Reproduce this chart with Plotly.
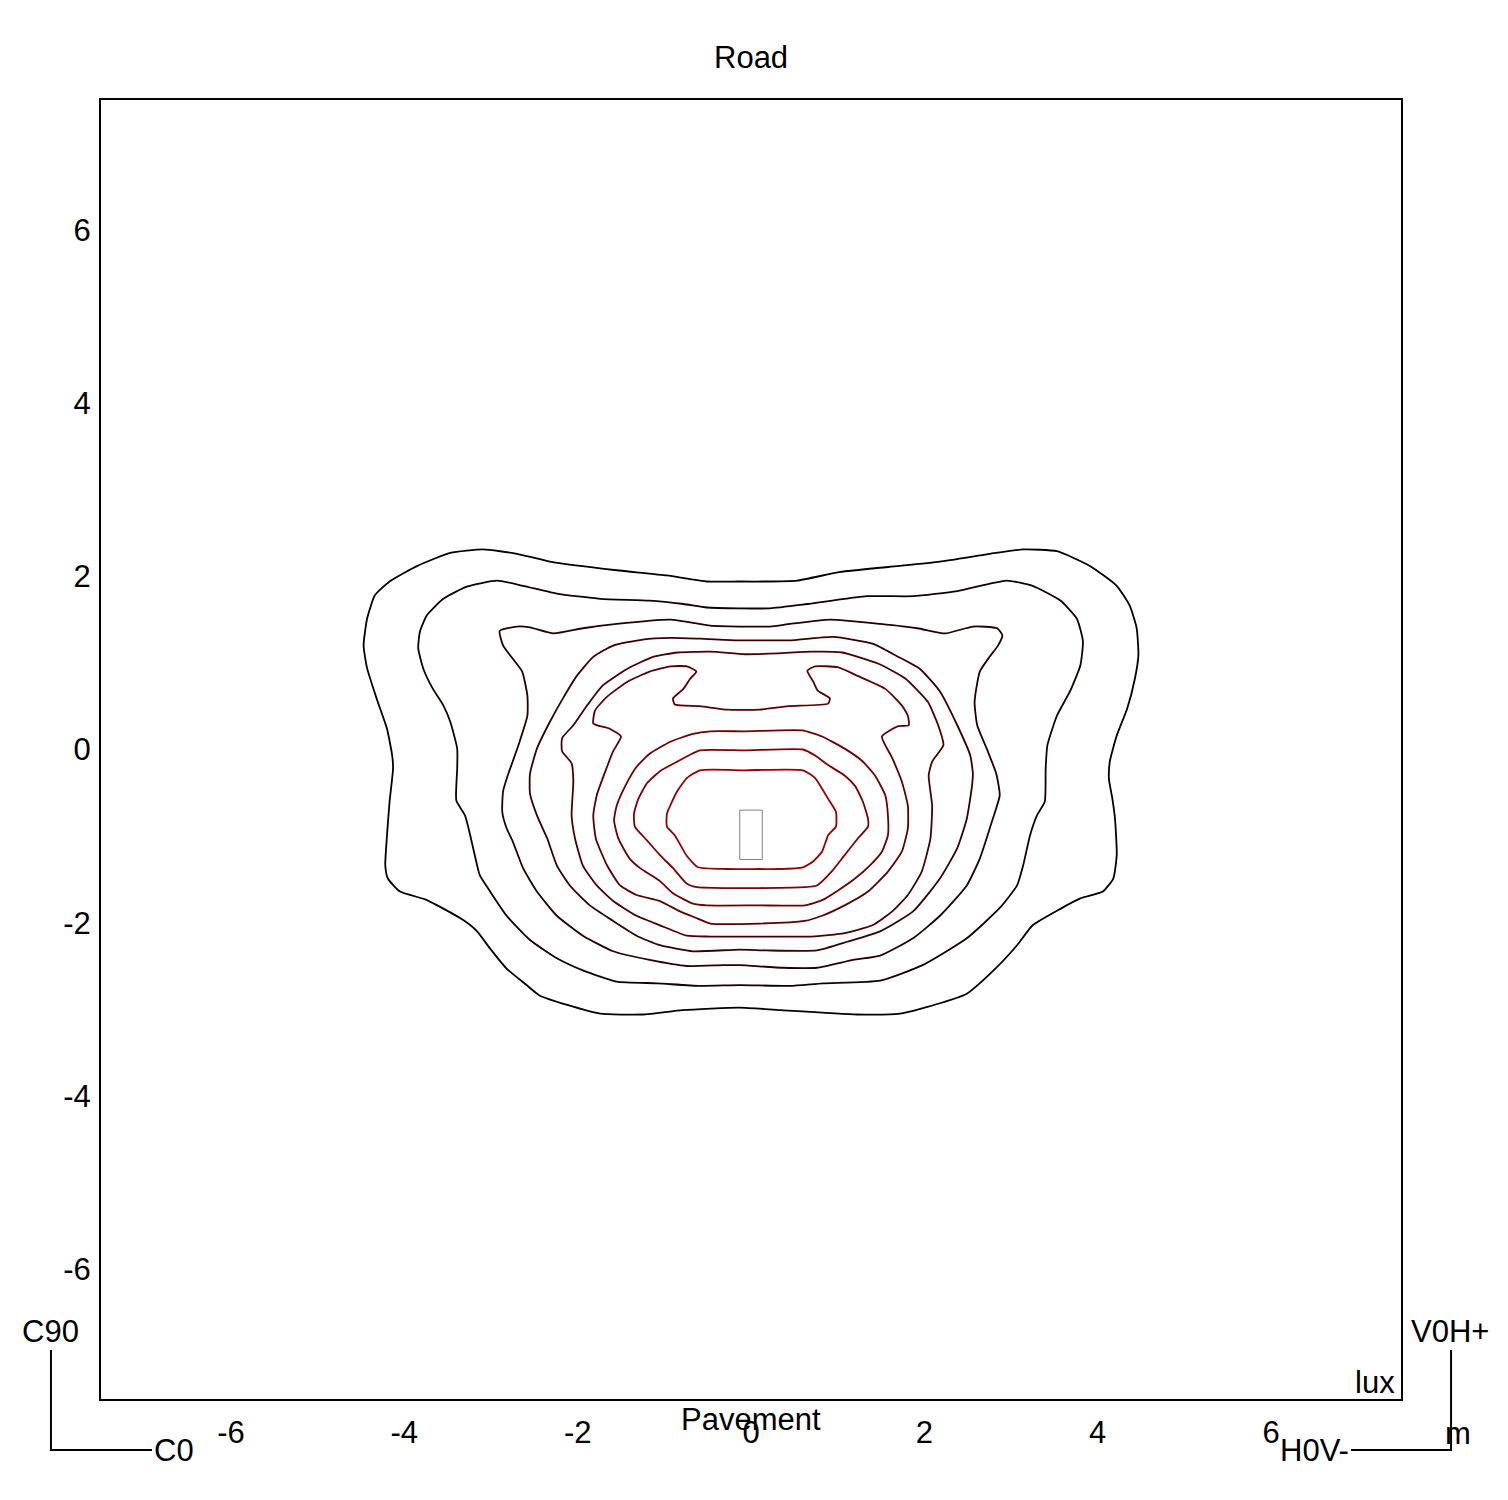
import plotly.graph_objects as go

# isolux lines (metres), outermost first
c1_x = [-3.09, -2.70, -2.32, -1.55, -0.97, -0.51, -0.13, 0.22, 0.53, 1.03, 1.60, 2.18, 2.76, 3.14, 3.53, 3.91,
        4.22, 4.37, 4.45, 4.47, 4.43, 4.34, 4.22, 4.14, 4.13, 4.17, 4.20, 4.22, 4.18, 4.06, 3.80, 3.57, 3.25,
        3.07, 2.79, 2.49, 2.18, 1.72, 1.22, 0.34, -0.13, -0.79, -1.25, -1.74, -2.12, -2.44, -2.59, -2.82, -3.01,
        -3.16, -3.32, -3.62, -3.76, -4.05, -4.19, -4.22, -4.20, -4.17, -4.13, -4.14, -4.20, -4.32, -4.43, -4.47,
        -4.43, -4.34, -4.17, -3.85, -3.47]
c1_y = [2.31, 2.26, 2.17, 2.07, 2.01, 1.94, 1.94, 1.94, 1.95, 2.05, 2.11, 2.17, 2.26, 2.31, 2.29, 2.12,
        1.89, 1.66, 1.40, 1.09, 0.82, 0.47, 0.16, -0.14, -0.34, -0.57, -0.80, -1.22, -1.49, -1.64, -1.72, -1.84,
        -2.03, -2.26, -2.56, -2.82, -2.93, -3.05, -3.06, -3.01, -2.98, -3.01, -3.06, -3.05, -2.95, -2.84, -2.72,
        -2.53, -2.30, -2.10, -1.97, -1.80, -1.73, -1.64, -1.49, -1.34, -0.99, -0.60, -0.22, -0.07, 0.24, 0.59,
        0.94, 1.20, 1.51, 1.78, 1.94, 2.12, 2.27]

c2_x = [-2.93, -2.63, -2.24, -1.74, -1.17, -0.78, -0.51, -0.13, 0.22, 0.65, 1.34, 1.87, 2.38, 2.95, 3.25, 3.57,
        3.76, 3.83, 3.80, 3.68, 3.53, 3.42, 3.40, 3.39, 3.30, 3.22, 3.14, 3.07, 2.87, 2.49, 1.98, 1.49, 0.83,
        0.45, -0.13, -0.59, -1.08, -1.55, -1.94, -2.24, -2.55, -2.82, -3.01, -3.13, -3.16, -3.24, -3.30, -3.40,
        -3.39, -3.39, -3.47, -3.55, -3.67, -3.78, -3.84, -3.82, -3.74, -3.55, -3.28]
c2_y = [1.95, 1.89, 1.80, 1.74, 1.72, 1.68, 1.64, 1.63, 1.63, 1.68, 1.77, 1.77, 1.83, 1.95, 1.89, 1.72,
        1.51, 1.25, 0.97, 0.67, 0.39, 0.05, -0.22, -0.60, -0.76, -0.99, -1.34, -1.57, -1.83, -2.18, -2.49, -2.67,
        -2.70, -2.73, -2.72, -2.73, -2.70, -2.68, -2.55, -2.41, -2.20, -1.92, -1.64, -1.45, -1.34, -0.99, -0.76,
        -0.59, -0.22, 0.01, 0.32, 0.51, 0.70, 0.93, 1.17, 1.36, 1.55, 1.74, 1.88]

c3_x = [-2.90, -2.70, -2.55, -2.28, -1.94, -1.55, -0.93, -0.47, -0.13, 0.22, 0.45, 0.91, 1.49, 1.92, 2.24, 2.56,
        2.84, 2.90, 2.85, 2.76, 2.64, 2.58, 2.61, 2.72, 2.83, 2.87, 2.79, 2.64, 2.49, 2.18, 1.87, 1.49, 1.18,
        0.76, 0.37, -0.13, -0.32, -0.74, -1.17, -1.59, -1.94, -2.24, -2.47, -2.63, -2.75, -2.82, -2.87, -2.86,
        -2.80, -2.75, -2.67, -2.58, -2.58, -2.64, -2.75, -2.86]
c3_y = [1.37, 1.42, 1.41, 1.34, 1.40, 1.45, 1.50, 1.43, 1.42, 1.42, 1.45, 1.50, 1.45, 1.40, 1.34, 1.42,
        1.40, 1.32, 1.20, 1.08, 0.90, 0.55, 0.28, 0.01, -0.28, -0.53, -0.80, -1.26, -1.57, -1.92, -2.18, -2.38,
        -2.43, -2.52, -2.52, -2.49, -2.49, -2.50, -2.43, -2.33, -2.15, -1.92, -1.64, -1.37, -1.06, -0.91, -0.72,
        -0.48, -0.28, -0.14, 0.09, 0.39, 0.62, 0.90, 1.05, 1.20]

c4_x = [-2.55, -2.47, -2.32, -2.17, -2.01, -1.82, -1.59, -1.25, -0.93, -0.59, -0.13, 0.22, 0.45, 0.95, 1.41, 1.68,
        1.95, 2.18, 2.38, 2.53, 2.56, 2.55, 2.49, 2.38, 2.18, 1.87, 1.49, 1.11, 0.76, 0.18, -0.13, -0.67, -1.05,
        -1.32, -1.59, -1.86, -2.09, -2.24, -2.35, -2.47, -2.55]
c4_y = [-0.28, 0.01, 0.32, 0.59, 0.85, 1.07, 1.20, 1.27, 1.29, 1.28, 1.26, 1.26, 1.26, 1.30, 1.22, 1.08,
        0.93, 0.67, 0.28, -0.07, -0.28, -0.42, -0.80, -1.14, -1.49, -1.87, -2.10, -2.22, -2.32, -2.32, -2.31, -2.33,
        -2.26, -2.15, -1.98, -1.80, -1.57, -1.34, -1.03, -0.76, -0.51]

c5_x = [-2.18, -2.05, -1.89, -1.71, -1.43, -1.13, -0.85, -0.47, -0.07, 0.31, 0.70, 1.05, 1.47, 1.78, 2.04, 2.16,
        2.22, 2.09, 2.05, 2.09, 2.07, 1.97, 1.81, 1.63, 1.40, 1.08, 0.70, 0.10, -0.47, -0.74, -1.05, -1.32, -1.59,
        -1.78, -1.94, -2.03, -2.07, -2.05, -2.07, -2.18]
c5_y = [0.13, 0.28, 0.51, 0.74, 0.93, 1.07, 1.12, 1.13, 1.10, 1.11, 1.13, 1.12, 0.99, 0.82, 0.55, 0.28,
        0.05, -0.14, -0.30, -0.65, -1.03, -1.41, -1.68, -1.87, -2.03, -2.12, -2.16, -2.16, -2.16, -2.15, -2.03, -1.92,
        -1.75, -1.57, -1.34, -1.03, -0.76, -0.37, -0.16, -0.02]

c6_x = [0.10, -0.28, -0.59, -0.88, -0.90, -0.78, -0.70, -0.63, -0.74, -0.93, -1.17, -1.43, -1.66, -1.80, -1.82,
        -1.74, -1.63, -1.50, -1.59, -1.68, -1.78, -1.82, -1.79, -1.66, -1.51, -1.32, -1.05, -0.82, -0.62, -0.47,
        0.10, 0.62, 0.82, 1.08, 1.35, 1.58, 1.74, 1.81, 1.81, 1.74, 1.63, 1.51, 1.70, 1.82, 1.81, 1.74, 1.55,
        1.23, 1.00, 0.74, 0.65, 0.72, 0.77, 0.91, 0.89, 0.43]
c6_y = [0.46, 0.46, 0.50, 0.52, 0.59, 0.70, 0.82, 0.90, 0.96, 0.96, 0.90, 0.78, 0.61, 0.45, 0.30,
        0.27, 0.24, 0.15, -0.02, -0.25, -0.53, -0.76, -1.03, -1.34, -1.57, -1.68, -1.75, -1.87, -1.95, -2.01,
        -2.01, -1.98, -1.92, -1.80, -1.64, -1.41, -1.18, -0.91, -0.65, -0.37, -0.10, 0.15, 0.27, 0.28, 0.39, 0.51,
        0.70, 0.85, 0.95, 0.96, 0.91, 0.78, 0.68, 0.59, 0.53, 0.50]

c7_x = [-0.07, -0.47, -0.67, -0.93, -1.17, -1.32, -1.45, -1.55, -1.58, -1.53, -1.40, -1.28, -1.05, -0.90, -0.67,
        -0.51, 0.10, 0.62, 0.82, 1.00, 1.20, 1.37, 1.51, 1.58, 1.58, 1.55, 1.43, 1.28, 1.08, 0.82, 0.59]
c7_y = [0.21, 0.21, 0.18, 0.09, -0.05, -0.20, -0.42, -0.65, -0.82, -1.03, -1.26, -1.37, -1.52, -1.66, -1.78,
        -1.80, -1.80, -1.80, -1.74, -1.63, -1.49, -1.34, -1.18, -0.99, -0.76, -0.53, -0.30, -0.13, 0.01, 0.15, 0.22]

c8_x = [-0.07, -0.59, -0.85, -1.05, -1.20, -1.30, -1.35, -1.34, -1.20, -1.05, -0.90, -0.74, -0.62, -0.28, 0.10,
        0.62, 0.76, 0.93, 1.08, 1.23, 1.35, 1.35, 1.29, 1.20, 1.08, 0.89, 0.74, 0.60]
c8_y = [-0.01, -0.01, -0.14, -0.25, -0.39, -0.57, -0.74, -0.89, -1.05, -1.22, -1.37, -1.55, -1.59, -1.60, -1.60,
        -1.59, -1.57, -1.41, -1.22, -1.03, -0.89, -0.80, -0.60, -0.42, -0.30, -0.18, -0.07, 0.00]

c9_x = [-0.07, -0.59, -0.74, -0.85, -0.97, -0.97, -0.88, -0.74, -0.61, -0.28, 0.10, 0.31, 0.60, 0.72, 0.82,
        0.89, 0.98, 0.98, 0.89, 0.74, 0.60]
c9_y = [-0.24, -0.24, -0.33, -0.48, -0.74, -0.89, -0.99, -1.23, -1.36, -1.38, -1.38, -1.38, -1.36, -1.29, -1.18,
        -0.99, -0.89, -0.72, -0.57, -0.33, -0.24]

contours = [(c1_x, c1_y), (c2_x, c2_y), (c3_x, c3_y), (c4_x, c4_y), (c5_x, c5_y),
            (c6_x, c6_y), (c7_x, c7_y), (c8_x, c8_y), (c9_x, c9_y)]

# luminaire outline
lamp_x = [-0.13, 0.13, 0.13, -0.13, -0.13]
lamp_y = [-0.70, -0.70, -1.27, -1.27, -0.70]

tick_vals = [-6, -4, -2, 0, 2, 4, 6]
tick_text = [str(v) for v in tick_vals]  # plain hyphen, not the unicode minus

# black outside -> dark red inside
line_colors = ["#000000", "#120000", "#240000", "#360000", "#480000",
               "#5a0000", "#6c0000", "#7e0000", "#960000"]

fig = go.Figure()
for (xs, ys), col in zip(contours, line_colors):
    fig.add_trace(go.Scatter(x=xs + xs[:1], y=ys + ys[:1], mode="lines",
                             line=dict(color=col, width=1.8, shape="spline", smoothing=0.5),
                             hoverinfo="skip"))

fig.add_trace(go.Scatter(x=lamp_x, y=lamp_y, mode="lines",
                         line=dict(color="#808080", width=1), hoverinfo="skip"))

font = dict(family="Arial, Liberation Sans, sans-serif", size=31, color="black")
axis_style = dict(range=[-7.5, 7.5], tickvals=tick_vals, ticktext=tick_text,
                  showgrid=False, zeroline=False,
                  showline=True, mirror=True, linecolor="black", linewidth=2,
                  ticks="", tickfont=dict(family=font["family"], size=31, color="black"))

fig.update_layout(
    width=1508, height=1500,
    margin=dict(l=101, r=107, t=100, b=101),
    paper_bgcolor="white", plot_bgcolor="white",
    showlegend=False,
    xaxis=dict(**axis_style, ticklabelstandoff=5),
    yaxis=dict(**axis_style, ticklabelstandoff=2),
)

labels = [
    ("Road", 0.5, 1.033, "center"),
    ("Pavement", 0.5, -0.016, "center"),
    ("lux", 0.997, 0.013, "right"),
    ("C90", -0.0385, 0.0516, "center"),
    ("C0", 0.0392, -0.0393, "left"),
    ("V0H+", 1.0377, 0.0516, "center"),
    ("H0V-", 0.9615, -0.0393, "right"),
    ("m", 1.0438, -0.0262, "center"),
]
for txt, x, y, anchor in labels:
    fig.add_annotation(text=txt, x=x, y=y, xref="paper", yref="paper", showarrow=False,
                       xanchor=anchor, yanchor="middle", font=font)

# orientation markers in the corners
fig.add_shape(type="path", xref="paper", yref="paper",
              path="M -0.0385 0.0377 L -0.0385 -0.0393 L 0.0392 -0.0393",
              line=dict(color="black", width=2))
fig.add_shape(type="path", xref="paper", yref="paper",
              path="M 1.0385 0.0377 L 1.0385 -0.0393 L 0.9615 -0.0393",
              line=dict(color="black", width=2))

fig.write_html("out.html", config={"displayModeBar": False},
               post_script="document.body.style.margin='0';")
